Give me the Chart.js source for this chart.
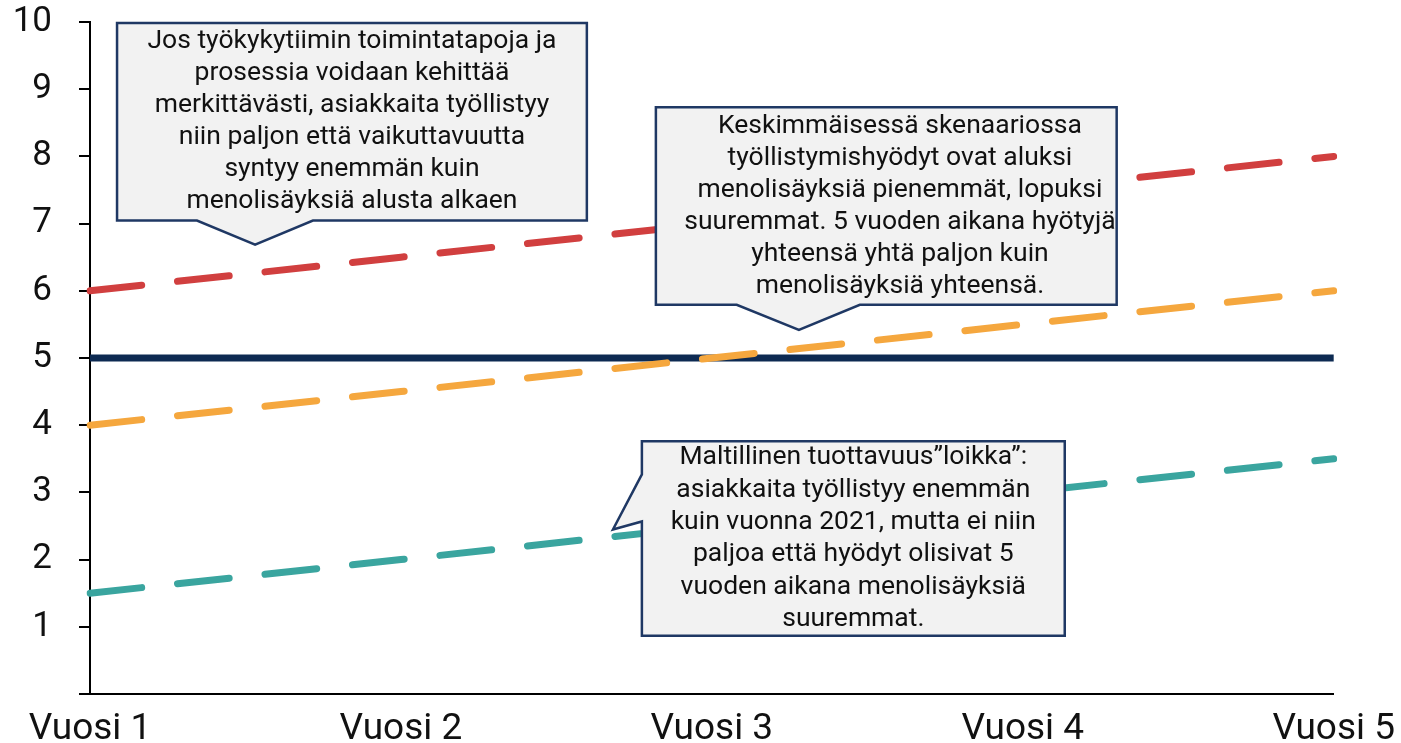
<!DOCTYPE html>
<html>
<head>
<meta charset="utf-8">
<script src="https://cdn.jsdelivr.net/npm/chart.js@4/dist/chart.umd.min.js"></script>
<style>
  html, body { margin: 0; padding: 0; background: #ffffff; }
  #wrap { position: relative; width: 1401px; height: 743px; }
</style>
</head>
<body>
<div id="wrap"><canvas id="c" width="1401" height="743"></canvas></div>
<script>
const categories = ['Vuosi 1', 'Vuosi 2', 'Vuosi 3', 'Vuosi 4', 'Vuosi 5'];
const highValues = [6, 6.5, 7, 7.5, 8];
const midValues = [4, 4.5, 5, 5.5, 6];
const lowValues = [1.5, 2, 2.5, 3, 3.5];
const costValues = [5, 5, 5, 5, 5];
const yTicks = [0, 1, 2, 3, 4, 5, 6, 7, 8, 9, 10];

const callouts = [
  {
    lines: ['Jos työkykytiimin toimintatapoja ja', 'prosessia voidaan kehittää', 'merkittävästi, asiakkaita työllistyy', 'niin paljon että vaikuttavuutta', 'syntyy enemmän kuin', 'menolisäyksiä alusta alkaen'],
    box: [0.087, 9.985, 1.598, 7.045], lineH: 32,
    pointer: { side: 'bottom', a: 0.344, b: 0.717, tip: [0.531, 6.687] }
  },
  {
    lines: ['Keskimmäisessä skenaariossa', 'työllistymishyödyt ovat aluksi', 'menolisäyksiä pienemmät, lopuksi', 'suuremmat. 5 vuoden aikana hyötyjä', 'yhteensä yhtä paljon kuin', 'menolisäyksiä yhteensä.'],
    box: [1.820, 8.731, 3.302, 5.791], lineH: 32, textX: 2.605,
    pointer: { side: 'bottom', a: 2.080, b: 2.476, tip: [2.280, 5.418] }
  },
  {
    lines: ['Maltillinen tuottavuus”loikka”:', 'asiakkaita työllistyy enemmän', 'kuin vuonna 2021, mutta ei niin', 'paljoa että hyödyt olisivat 5', 'vuoden aikana menolisäyksiä', 'suuremmat.'],
    box: [1.775, 3.761, 3.135, 0.866], lineH: 32.4,
    pointer: { side: 'left', a: 3.269, b: 2.567, tip: [1.682, 2.448] }
  }
];

const calloutPlugin = {
  id: 'callouts',
  afterDatasetsDraw(chart) {
    const ctx = chart.ctx;
    const xs = chart.scales.x, ys = chart.scales.y;
    const X = v => xs.getPixelForValue(v);
    const Y = v => ys.getPixelForValue(v);
    callouts.forEach(c => {
      const x1 = X(c.box[0]), y1 = Y(c.box[1]), x2 = X(c.box[2]), y2 = Y(c.box[3]);
      const p = c.pointer;
      ctx.save();
      ctx.beginPath();
      ctx.moveTo(x1, y1);
      ctx.lineTo(x2, y1);
      ctx.lineTo(x2, y2);
      if (p.side === 'bottom') {
        ctx.lineTo(X(p.b), y2);
        ctx.lineTo(X(p.tip[0]), Y(p.tip[1]));
        ctx.lineTo(X(p.a), y2);
        ctx.lineTo(x1, y2);
        ctx.lineTo(x1, y1);
      } else {
        ctx.lineTo(x1, y2);
        ctx.lineTo(x1, Y(p.b));
        ctx.lineTo(X(p.tip[0]), Y(p.tip[1]));
        ctx.lineTo(x1, Y(p.a));
        ctx.lineTo(x1, y1);
      }
      ctx.closePath();
      ctx.fillStyle = '#f2f2f2';
      ctx.fill();
      ctx.lineWidth = 2.5;
      ctx.strokeStyle = '#1f3864';
      ctx.lineJoin = 'miter';
      ctx.stroke();
      ctx.fillStyle = '#111111';
      ctx.font = '26.5px Roboto';
      ctx.textAlign = 'center';
      ctx.textBaseline = 'middle';
      const cx = c.textX !== undefined ? X(c.textX) : (x1 + x2) / 2;
      const cy = (y1 + y2) / 2;
      const n = c.lines.length;
      c.lines.forEach((t, i) => {
        ctx.fillText(t, cx, cy + (i - (n - 1) / 2) * c.lineH);
      });
      ctx.restore();
    });
  }
};

const dashed = (label, data, color) => ({
  label, data, borderColor: color, backgroundColor: color,
  borderWidth: 7, borderDash: [52, 36], borderCapStyle: 'round',
  pointRadius: 0, tension: 0, fill: false
});

new Chart(document.getElementById('c'), {
  type: 'line',
  data: {
    labels: categories,
    datasets: [
      dashed('Korkea', highValues, '#d13f3f'),
      dashed('Keski', midValues, '#f5a73e'),
      dashed('Matala', lowValues, '#3aa59f'),
      { label: 'Menot', data: costValues, borderColor: '#0d2a52', backgroundColor: '#0d2a52', borderWidth: 7, pointRadius: 0, fill: false }
    ]
  },
  options: {
    responsive: false,
    animation: false,
    devicePixelRatio: 1,
    layout: { padding: { left: 12, right: 7, top: 0, bottom: 0 } },
    plugins: { legend: { display: false }, tooltip: { enabled: false } },
    scales: {
      x: {
        type: 'category',
        offset: false,
        grid: { display: false },
        border: { display: true, color: '#000000', width: 2 },
        ticks: { color: '#111111', font: { family: 'Roboto', size: 37 }, padding: 6, maxRotation: 0, autoSkip: false },
        afterFit(axis) { axis.height = 49; }
      },
      y: {
        min: 0, max: 10,
        afterBuildTicks(axis) { axis.ticks = yTicks.map(v => ({ value: v })); },
        grid: { drawOnChartArea: false, drawTicks: true, tickLength: 11, color: '#000000', lineWidth: 2 },
        border: { display: true, color: '#000000', width: 2 },
        ticks: { color: '#111111', font: { family: 'Roboto', size: 35 }, padding: 27, callback: v => v === 0 ? '' : String(v) },
        afterFit(axis) { axis.width = 78; axis.paddingTop = 22; axis.paddingBottom = 0; }
      }
    }
  },
  plugins: [calloutPlugin]
});
</script>
</body>
</html>
